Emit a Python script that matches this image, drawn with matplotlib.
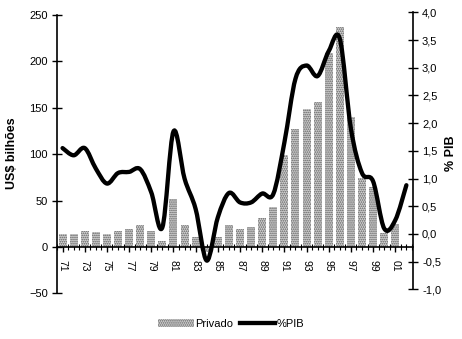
import numpy as np
import matplotlib
matplotlib.use("Agg")
import matplotlib.pyplot as plt
from matplotlib.path import Path
from matplotlib.patches import PathPatch, Patch
from matplotlib.lines import Line2D
from matplotlib.ticker import MultipleLocator, FuncFormatter

plt.rcParams['font.family'] = ['Liberation Sans', 'DejaVu Sans']
plt.rcParams['hatch.color'] = '#5a5a5a'
plt.rcParams['hatch.linewidth'] = 0.8

years = ['71', '72', '73', '74', '75', '76', '77', '78', '79', '80',
         '81', '82', '83', '84', '85', '86', '87', '88', '89', '90',
         '91', '92', '93', '94', '95', '96', '97', '98', '99', '00',
         '01', '02']
# private flows, US$ bn (no figure for 02)
privado = [14, 14, 17, 16, 14, 17, 19, 24, 17, 7,
           52, 24, 11, -5, 11, 24, 19, 22, 31, 43,
           99, 127, 149, 156, 209, 237, 140, 74, 65, 15,
           25]
# share of GDP, %
pib = [1.55, 1.42, 1.55, 1.18, 0.91, 1.10, 1.12, 1.17, 0.75, 0.12,
       1.85, 1.00, 0.45, -0.48, 0.30, 0.74, 0.57, 0.57, 0.73, 0.72,
       1.65, 2.80, 3.04, 2.85, 3.30, 3.52, 1.90, 1.10, 0.95, 0.10,
       0.25, 0.88]


def smooth_path(xs, ys):
    # catmull-rom segments written as cubic bezier curves
    pts = np.column_stack([xs, ys]).astype(float)
    verts = [pts[0]]
    codes = [Path.MOVETO]
    n = len(pts)
    for i in range(n - 1):
        p0 = pts[i - 1] if i > 0 else pts[i]
        p1 = pts[i]
        p2 = pts[i + 1]
        p3 = pts[i + 2] if i + 2 < n else pts[i + 1]
        c1 = p1 + (p2 - p0) / 6.0
        c2 = p2 - (p3 - p1) / 6.0
        verts += [c1, c2, p2]
        codes += [Path.CURVE4] * 3
    return Path(verts, codes)


fig = plt.figure(figsize=(4.62, 3.39), dpi=100)
ax = fig.add_axes([0.1234, 0.1345, 0.7706, 0.8292])
ax2 = ax.twinx()

x = np.arange(len(years))
ax.bar(x[:len(privado)], privado, width=0.72, color='#d4d4d4',
       linewidth=0, hatch='........', zorder=2)

patch = PathPatch(smooth_path(x, pib), facecolor='none', edgecolor='black',
                  linewidth=3.1, capstyle='round', joinstyle='round', zorder=3)
ax2.add_patch(patch)

ax.set_xlim(-0.5, 31.6)
ax.set_ylim(-50, 252.9)
ax2.set_ylim(-1.072, 4.0)

ax.spines['top'].set_visible(False)
ax2.spines['top'].set_visible(False)
ax.spines['right'].set_visible(False)
ax2.spines['left'].set_visible(False)
ax2.spines['bottom'].set_visible(False)
ax.spines['bottom'].set_position(('data', 0))
ax.spines['left'].set_bounds(-50, 250)
ax2.spines['right'].set_bounds(-1.0, 4.0)
for s in [ax.spines['left'], ax.spines['bottom'], ax2.spines['right']]:
    s.set_linewidth(1.2)

# left axis, US$ bn
ax.set_yticks(np.arange(-50, 251, 50))
ax.tick_params(axis='y', direction='inout', length=7, width=1.0,
               labelsize=8, pad=3)
ax.set_ylabel('US$ bilhões', fontsize=9, fontweight='bold', labelpad=8)

ax.set_xticks(x[::2])
ax.set_xticklabels(years[::2], rotation=-90)
ax.xaxis.set_minor_locator(MultipleLocator(0.5))
ax.tick_params(axis='x', which='major', direction='inout', length=7,
               width=1.0, labelsize=7.5, pad=6)
ax.tick_params(axis='x', which='minor', direction='inout', length=4, width=0.8)

# right axis, % of GDP
ax2.set_yticks(np.arange(-1.0, 4.01, 0.5))
ax2.yaxis.set_major_formatter(FuncFormatter(lambda v, p: ('%.1f' % v).replace('.', ',')))
ax2.tick_params(axis='y', direction='inout', length=7, width=1.0,
                labelsize=8, pad=3)
ax2.set_ylabel('% PIB', fontsize=9, fontweight='bold', labelpad=3, rotation=90)

handles = [Patch(facecolor='#d4d4d4', hatch='........', linewidth=0),
           Line2D([0], [0], color='black', linewidth=3.1)]
fig.legend(handles, ['Privado', '%PIB'], loc='lower center',
           bbox_to_anchor=(0.5, 0.0), ncol=2, frameon=False, fontsize=8,
           handlelength=3.2, handletextpad=0.1, columnspacing=0.6)

fig.savefig('out.png', dpi=100)
